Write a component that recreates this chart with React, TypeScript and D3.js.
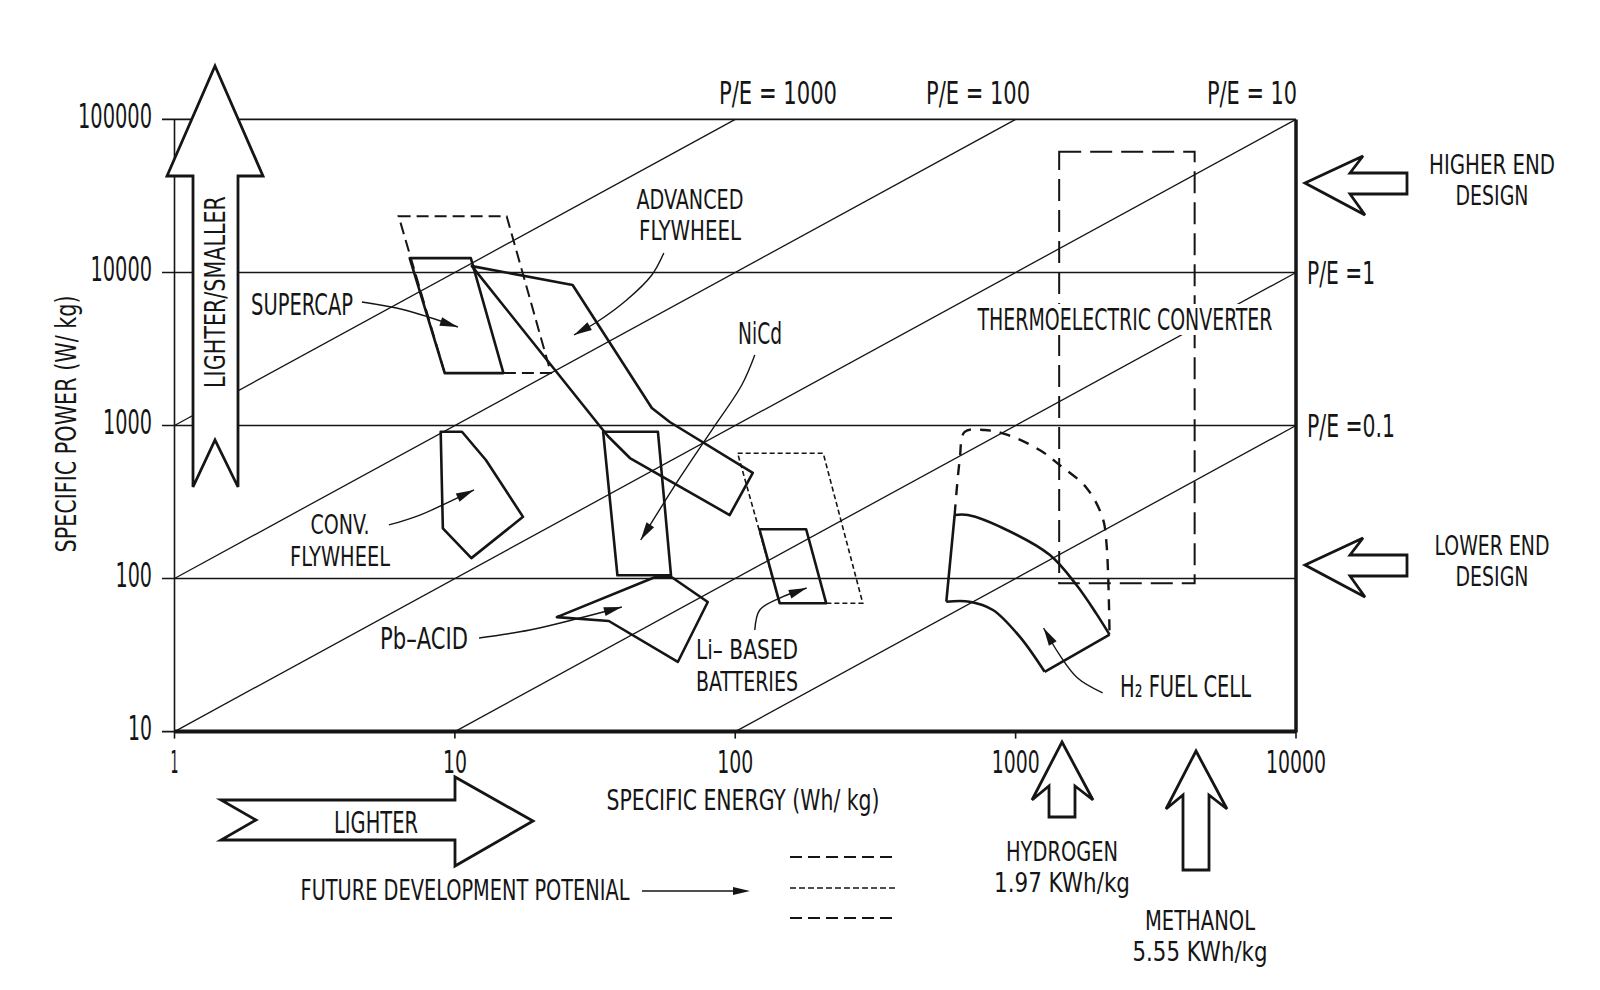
import * as d3 from "d3";

type Pt = [number, number]; // [specific energy Wh/kg, specific power W/kg]

const energyTicks = [1, 10, 100, 1000, 10000];
const powerTicks = [10, 100, 1000, 10000, 100000];
const peRatios = [1000, 100, 10, 1, 0.1];

// technology regions
const supercap: Pt[] = [[6.9, 12400], [11.4, 12400], [14.9, 2200], [9.2, 2200]];
const supercapFuture: Pt[] = [[6.3, 23300], [15.3, 23300], [22, 2200], [9.2, 2200]];
const advFlywheel: Pt[] = [[11.5, 11000], [26.3, 8280], [50.4, 1300], [58.4, 1054], [115.5, 490], [95.5, 260], [42.1, 613], [35.1, 854]];
const convFlywheel: Pt[] = [[8.9, 910], [10.6, 910], [12.9, 595], [17.5, 253], [11.45, 136], [9.06, 213]];
const nicd: Pt[] = [[33.8, 910], [53, 910], [59, 105], [38, 105]];
const pbAcid: Pt[] = [[23.1, 56], [51.6, 102], [59.4, 102], [79.8, 70.3], [62.4, 28.5], [35.4, 52.8]];
const liBased: Pt[] = [[122, 210], [179, 210], [211, 69], [144, 69]];
const liFuture: Pt[] = [[102, 658], [206, 658], [285, 69], [144, 69]];
const h2Top: Pt[] = [[606, 260], [676, 260], [899, 214], [1322, 143], [1646, 91], [1940, 59], [2163, 43]];
const h2Bottom: Pt[] = [[1269, 24.6], [1034, 41.7], [830, 62.3], [685, 70.6], [566, 70.6]];
const h2Future: Pt[] = [[606, 260], [632, 600], [658, 907], [775, 935], [937, 867], [1218, 692], [1435, 552], [1791, 391], [2043, 249], [2111, 166], [2163, 43]];
const thermoE = [1430, 4350];
const thermoP = [93, 61500];

// label leaders
const leaderSupercap: Pt[] = [[4.66, 6412], [6.63, 5684], [10.25, 4402]];
const leaderAdvFlywheel: Pt[] = [[55.6, 13400], [50.4, 9623], [41, 6607], [32.1, 4746], [26.6, 3903]];
const leaderNicd: Pt[] = [[117.4, 2888], [105.5, 1839], [82.5, 934], [63.4, 454], [46, 178.6]];
const leaderConv: Pt[] = [[5.82, 224], [7.5, 260], [11.7, 379]];
const leaderPb: Pt[] = [[12.2, 40.9], [18.5, 46.1], [27.9, 55.2], [39.4, 65.2]];
const leaderLi: Pt[] = [[117.4, 46.1], [122.3, 62.3], [144.1, 74.6], [179.8, 86.8]];
const leaderH2: Pt[] = [[2043, 17.9], [1663, 22.4], [1435, 31.7], [1258, 47.5]];

const INK = "#151515";
const FONT = "'Liberation Sans Narrow', 'DejaVu Sans Condensed', 'Liberation Sans', sans-serif";

const x = d3.scaleLog().domain([1, 10000]).range([174.5, 1296]);
const y = d3.scaleLog().domain([10, 100000]).range([731.6, 119.4]);

const poly = d3.line<Pt>().x((d) => x(d[0])).y((d) => y(d[1])).curve(d3.curveLinearClosed);
const open = d3.line<Pt>().x((d) => x(d[0])).y((d) => y(d[1]));
const smooth = d3.line<Pt>().x((d) => x(d[0])).y((d) => y(d[1])).curve(d3.curveCatmullRom);
const px = d3.line<number[]>().x((d) => d[0]).y((d) => d[1]).curve(d3.curveCatmullRom);

function head(p1: number[], p2: number[], len = 18, hw = 4.5) {
  const dx = p2[0] - p1[0], dy = p2[1] - p1[1];
  const l = Math.hypot(dx, dy);
  const ux = dx / l, uy = dy / l;
  const bx = p2[0] - ux * len, by = p2[1] - uy * len;
  return `M${p2[0]},${p2[1]}L${bx - uy * hw},${by + ux * hw}L${bx + uy * hw},${by - ux * hw}Z`;
}

function Leader({ pts }: { pts: Pt[] }) {
  const p = pts.map((d) => [x(d[0]), y(d[1])]);
  const n = p.length;
  return (
    <g>
      <path d={px(p) || undefined} fill="none" stroke={INK} strokeWidth={1.4} />
      <path d={head(p[n - 2], p[n - 1])} fill={INK} />
    </g>
  );
}

function Label({ x: lx, y: ly, text, size = 30, width, anchor = "middle", rotate }: {
  x: number; y: number; text: string; size?: number; width?: number; anchor?: string; rotate?: boolean;
}) {
  return (
    <text
      x={rotate ? 0 : lx}
      y={(rotate ? 0 : ly) + size * 0.36}
      transform={rotate ? `translate(${lx},${ly}) rotate(-90)` : undefined}
      fontSize={size}
      fontFamily={FONT}
      fill={INK}
      textAnchor={anchor}
      textLength={width}
      lengthAdjust="spacingAndGlyphs"
    >
      {text}
    </text>
  );
}

// stacked label, one text per line
function Label2({ x: lx, y: ly, lines, widths, gap = 31, size = 26 }: {
  x: number; y: number; lines: string[]; widths: number[]; gap?: number; size?: number;
}) {
  return (
    <g>
      {lines.map((t, i) => (
        <Label key={i} x={lx} y={ly + i * gap} text={t} width={widths[i]} size={size} />
      ))}
    </g>
  );
}

const arrowStyle = { fill: "#fff", stroke: INK, strokeWidth: 2.8, strokeLinejoin: "miter" as const };

function leftArrow(tx: number, ty: number) {
  return `M${tx},${ty}L${tx + 58},${ty - 27}L${tx + 45},${ty - 10}L${tx + 102},${ty - 10}L${tx + 102},${ty + 11}L${tx + 45},${ty + 11}L${tx + 60},${ty + 32}Z`;
}
function upArrow(tx: number, ty: number, shaft: number) {
  return `M${tx},${ty}L${tx + 31},${ty + 58}L${tx + 13},${ty + 44}L${tx + 13},${ty + shaft}L${tx - 13},${ty + shaft}L${tx - 13},${ty + 44}L${tx - 30},${ty + 58}Z`;
}

export default function App() {
  return (
    <svg
      width={1600}
      height={990}
      viewBox="0 0 1600 990"
      style={{ position: "absolute", left: 0, top: 0, background: "#fff" }}
    >
      {/* grid lines with left ticks */}
      {powerTicks.map((p) => (
        <line key={p} x1={162} x2={x(10000)} y1={y(p)} y2={y(p)} stroke={INK} strokeWidth={1.6} />
      ))}
      <line x1={x(1)} x2={x(1)} y1={y(100000)} y2={y(10)} stroke={INK} strokeWidth={1.6} />
      <line x1={x(1)} x2={x(10000)} y1={y(10)} y2={y(10)} stroke={INK} strokeWidth={4} />
      <line x1={x(10000)} x2={x(10000)} y1={y(100000)} y2={y(10) + 1} stroke={INK} strokeWidth={3.5} />
      {energyTicks.map((e) => (
        <line key={e} x1={x(e)} x2={x(e)} y1={y(10)} y2={y(10) + 7} stroke={INK} strokeWidth={1.6} />
      ))}

      {/* constant P/E lines */}
      {peRatios.map((k) => {
        const e0 = Math.max(1, 10 / k);
        const e1 = Math.min(10000, 100000 / k);
        return (
          <path key={k} d={open([[e0, e0 * k], [e1, e1 * k]]) || undefined} stroke={INK} strokeWidth={1.3} fill="none" />
        );
      })}

      {/* future development outlines */}
      <path d={poly(supercapFuture) || undefined} fill="none" stroke={INK} strokeWidth={2} strokeDasharray="12 6" />
      <path d={poly(liFuture) || undefined} fill="none" stroke={INK} strokeWidth={1.6} strokeDasharray="5 3" />
      <path d={smooth(h2Future) || undefined} fill="none" stroke={INK} strokeWidth={2.4} strokeDasharray="11 9" />
      <rect
        x={x(thermoE[0])}
        y={y(thermoP[1])}
        width={x(thermoE[1]) - x(thermoE[0])}
        height={y(thermoP[0]) - y(thermoP[1])}
        fill="none"
        stroke={INK}
        strokeWidth={2}
        strokeDasharray="22 9"
      />

      {/* technology regions */}
      {[supercap, advFlywheel, convFlywheel, nicd, pbAcid, liBased].map((r, i) => (
        <path key={i} d={poly(r) || undefined} fill="none" stroke={INK} strokeWidth={2.6} strokeLinejoin="round" />
      ))}
      <path d={smooth(h2Top) || undefined} fill="none" stroke={INK} strokeWidth={2.6} />
      <path d={smooth(h2Bottom) || undefined} fill="none" stroke={INK} strokeWidth={2.6} />
      <path d={open([h2Top[h2Top.length - 1], h2Bottom[0]]) || undefined} fill="none" stroke={INK} strokeWidth={2.6} />
      <path d={open([h2Bottom[h2Bottom.length - 1], h2Top[0]]) || undefined} fill="none" stroke={INK} strokeWidth={2.6} />

      {/* leaders */}
      {[leaderSupercap, leaderAdvFlywheel, leaderNicd, leaderConv, leaderPb, leaderLi, leaderH2].map((l, i) => (
        <Leader key={i} pts={l} />
      ))}

      {/* LIGHTER/SMALLER arrow */}
      <path d="M215,66L263,176L238,176L238,487L215,440L193,487L193,176L167,176Z" {...arrowStyle} />
      <Label x={215} y={292} text="LIGHTER/SMALLER" size={28} width={192} rotate />

      {/* tick labels */}
      {powerTicks.map((p) => (
        <Label key={p} x={152} y={y(p) - 3} text={String(p)} size={33} anchor="end" width={String(p).length * 12.5 - 1} />
      ))}
      {energyTicks.map((e) => (
        <Label key={e} x={x(e)} y={761} text={String(e)} size={32} width={String(e).length === 1 ? 8 : String(e).length * 12} />
      ))}
      <Label x={66} y={424} text="SPECIFIC POWER (W/ kg)" size={28} width={257} rotate />
      <Label x={743} y={800} text="SPECIFIC ENERGY (Wh/ kg)" size={29} width={273} />

      {/* P/E labels */}
      <Label x={778} y={92} text="P/E = 1000" size={32} width={118} />
      <Label x={978} y={92} text="P/E = 100" size={32} width={104} />
      <Label x={1252} y={92} text="P/E = 10" size={32} width={90} />
      <Label x={1307} y={y(10000)} text="P/E =1" size={32} width={68} anchor="start" />
      <Label x={1307} y={y(1000)} text="P/E =0.1" size={32} width={88} anchor="start" />

      {/* region labels */}
      <Label x={302} y={304} text="SUPERCAP" width={102} />
      <Label2 x={690} y={200} lines={["ADVANCED", "FLYWHEEL"]} widths={[107, 102]} />
      <Label x={760} y={333} text="NiCd" width={44} />
      <rect x={972} y={304} width={306} height={31} fill="#fff" />
      <Label x={1125} y={319} text="THERMOELECTRIC CONVERTER" width={295} />
      <Label2 x={340} y={525} lines={["CONV.", "FLYWHEEL"]} widths={[59, 100]} gap={32} />
      <Label x={424} y={638} text="Pb–ACID" width={88} />
      <Label2 x={747} y={650} lines={["Li– BASED", "BATTERIES"]} widths={[102, 102]} gap={32} />
      <Label x={1120} y={686} text="H₂ FUEL CELL" width={131} anchor="start" />

      {/* design arrows */}
      <path d={leftArrow(1305, 183)} {...arrowStyle} />
      <Label2 x={1492} y={165} lines={["HIGHER END", "DESIGN"]} widths={[126, 73]} />
      <path d={leftArrow(1305, 565)} {...arrowStyle} />
      <Label2 x={1492} y={546} lines={["LOWER END", "DESIGN"]} widths={[115, 73]} />

      {/* fuel arrows */}
      <path d={upArrow(1062, 742, 75)} {...arrowStyle} />
      <Label2 x={1062} y={852} lines={["HYDROGEN", "1.97 KWh/kg"]} widths={[112, 136]} />
      <path d={upArrow(1196, 751, 119)} {...arrowStyle} />
      <Label2 x={1200} y={921} lines={["METHANOL", "5.55 KWh/kg"]} widths={[110, 135]} />

      {/* LIGHTER arrow */}
      <path d="M221,800L455,800L455,777L533,821L455,866L455,840L221,840L256,820Z" {...arrowStyle} />
      <Label x={376} y={822} text="LIGHTER" width={84} />

      {/* future development legend */}
      <Label x={465} y={890} text="FUTURE DEVELOPMENT POTENIAL" size={28} width={329} />
      <line x1={642} x2={735} y1={891} y2={891} stroke={INK} strokeWidth={1.4} />
      <path d={head([642, 891], [750, 891], 17, 4)} fill={INK} />
      <line x1={790} x2={895} y1={857} y2={857} stroke={INK} strokeWidth={2.2} strokeDasharray="12 6" />
      <line x1={790} x2={895} y1={888} y2={888} stroke={INK} strokeWidth={1.6} strokeDasharray="6 3" />
      <line x1={790} x2={895} y1={918} y2={918} stroke={INK} strokeWidth={2.2} strokeDasharray="12 6" />
    </svg>
  );
}
